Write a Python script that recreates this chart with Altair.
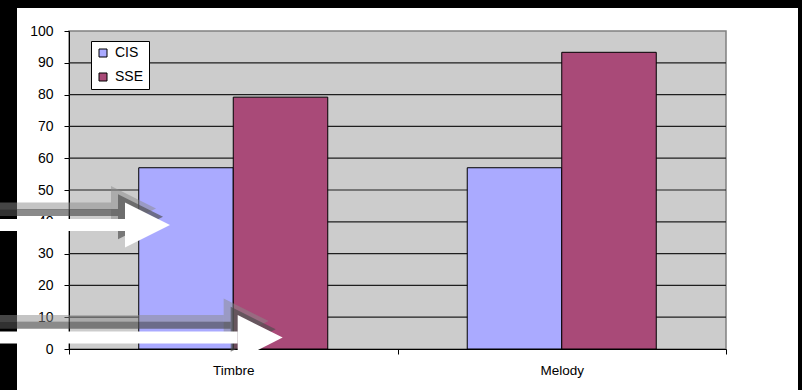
import altair as alt
import pandas as pd

# ---- data ----
categories = ["Timbre", "Melody"]
series_names = ["CIS", "SSE"]
cis_values = [57.0, 57.0]
sse_values = [79.2, 93.3]
series_colors = ["#aaaaff", "#a94a78"]
y_tick_values = [0, 10, 20, 30, 40, 50, 60, 70, 80, 90, 100]
grid_values = [10, 20, 30, 40, 50, 60, 70, 80, 90]

# annotation block arrows (white with grey bevel shadow)
arrow_level = [39.0, 3.6]        # y value each arrow sits on
arrow_tip = [0.3075, 0.6505]     # tip position, in category widths from the left
arrow_tail = [-0.3, -0.3]        # tails run off the left edge
head_length = 0.137              # arrow head length, in category widths

# shadow offsets (category widths, y units)
light_shaft_dy, dark_shaft_dy = 6.0, 3.9
light_head_dx, light_head_dy = -0.0426, 5.2
dark_head_dx, dark_head_dy = -0.0213, 2.6

# ---- tables ----
bar_df = pd.DataFrame(
    {
        "category": categories * 2,
        "series": [series_names[0]] * 2 + [series_names[1]] * 2,
        "value": cis_values + sse_values,
    }
)
grid_df = pd.DataFrame({"value": grid_values})

rows = []
for lvl, tip, tail in zip(arrow_level, arrow_tip, arrow_tail):
    base = tip - head_length
    center = tip - head_length / 2
    rows.append(dict(kind="shaft_light", x=tail, x2=base + light_head_dx, value=lvl + light_shaft_dy))
    rows.append(dict(kind="shaft_dark", x=tail, x2=base + dark_head_dx, value=lvl + dark_shaft_dy))
    rows.append(dict(kind="head_light", x=center + light_head_dx, x2=None, value=lvl + light_head_dy))
    rows.append(dict(kind="head_dark", x=center + dark_head_dx, x2=None, value=lvl + dark_head_dy))
    rows.append(dict(kind="shaft_white", x=tail, x2=base, value=lvl))
    rows.append(dict(kind="head_white", x=center, x2=None, value=lvl))
arrow_df = pd.DataFrame(rows)

W, H = 657, 318
FONT = "Liberation Sans"
TRI = "M-1,-1L1,0L-1,1Z"
ascale = alt.Scale(domain=[0, 2], nice=False, zero=False)


def ychan():
    return alt.Y(
        "value:Q",
        scale=alt.Scale(domain=[0, 100], nice=False, zero=True),
        axis=alt.Axis(
            values=y_tick_values, title=None, tickSize=5, labelPadding=11,
            labelFontSize=14, labelFont=FONT, labelColor="black",
            labelOverlap=False, labelFlush=False,
            domainColor="black", tickColor="black", grid=False,
        ),
    )


one = pd.DataFrame({"a": [0]})

# black outer frame strips (decoration)
strip_left = alt.Chart(one).mark_rect(color="black").encode(
    x=alt.value(-69), x2=alt.value(-52), y=alt.value(-31), y2=alt.value(H + 41)
)
strip_top = alt.Chart(one).mark_rect(color="black").encode(
    x=alt.value(-69), x2=alt.value(W + 76), y=alt.value(-31), y2=alt.value(-23)
)
strip_right = alt.Chart(one).mark_rect(color="black").encode(
    x=alt.value(W + 72), x2=alt.value(W + 76), y=alt.value(-31), y2=alt.value(H + 41)
)

grid = alt.Chart(grid_df).mark_rule(color="#1e1e1e", strokeWidth=1.2).encode(y=ychan())

bars = alt.Chart(bar_df).mark_bar(stroke="black", strokeWidth=1).encode(
    x=alt.X(
        "category:N",
        sort=categories,
        scale=alt.Scale(paddingInner=0, paddingOuter=0),
        axis=alt.Axis(
            title=None, labelAngle=0, tickBand="extent", tickSize=5, labelPadding=9,
            labelFontSize=13.5, labelFont=FONT, labelColor="black",
            domainColor="black", tickColor="black", grid=False,
        ),
    ),
    xOffset=alt.XOffset(
        "series:N", sort=series_names,
        scale=alt.Scale(paddingInner=0, paddingOuter=0.738),
    ),
    y=ychan(),
    color=alt.Color(
        "series:N",
        sort=series_names,
        scale=alt.Scale(domain=series_names, range=series_colors),
        legend=alt.Legend(
            title=None, orient="none", legendX=22, legendY=10,
            fillColor="white", strokeColor="black", padding=5,
            symbolType="square", symbolSize=64, symbolStrokeColor="black",
            symbolStrokeWidth=1, symbolOpacity=1, labelFontSize=14, labelFont=FONT,
            labelColor="black", rowPadding=10, labelOffset=5,
        ),
    ),
)


def shaft(kind, color, width, opacity):
    return alt.Chart(arrow_df).transform_filter(alt.datum.kind == kind).mark_rule(
        color=color, strokeWidth=width, opacity=opacity, strokeCap="butt"
    ).encode(
        x=alt.X("x:Q", scale=ascale, axis=None),
        x2="x2:Q",
        y=ychan(),
    )


def head(kind, color, opacity):
    return alt.Chart(arrow_df).transform_filter(alt.datum.kind == kind).mark_point(
        shape=TRI, filled=True, size=2025, color=color, opacity=opacity, strokeWidth=0
    ).encode(
        x=alt.X("x:Q", scale=ascale, axis=None),
        y=ychan(),
    )


arrows = alt.layer(
    head("head_light", "#8a8a8a", 0.5),
    shaft("shaft_light", "#8a8a8a", 7, 0.5),
    head("head_dark", "#4b4b4b", 0.65),
    shaft("shaft_dark", "#4b4b4b", 7, 0.65),
    shaft("shaft_white", "white", 12, 1),
    head("head_white", "white", 1),
)

chart = (
    alt.layer(strip_left, strip_top, strip_right, grid, bars, arrows)
    .resolve_scale(x="independent")
    .properties(
        width=W,
        height=H,
        padding={"left": 69, "top": 31, "right": 76, "bottom": 41},
        autosize=alt.AutoSizeParams(type="none"),
        background="white",
    )
    .configure_view(fill="#cccccc", stroke="#808080", strokeWidth=1.5)
)

chart.save("out.html", embed_options={"renderer": "svg", "actions": False})
